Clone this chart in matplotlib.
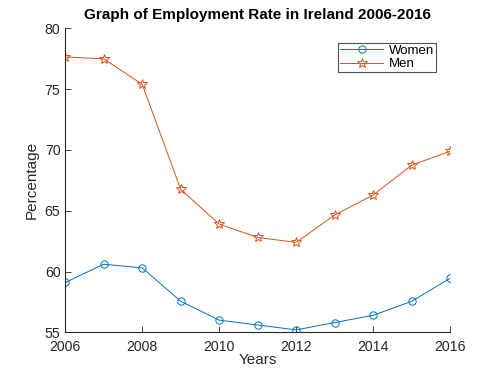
import numpy as np
import matplotlib.pyplot as plt

plt.rcParams['font.family'] = ['Liberation Sans', 'DejaVu Sans']

# Employment rate in Ireland (%)
years = [2006, 2007, 2008, 2009, 2010, 2011, 2012, 2013, 2014, 2015, 2016]
women = [59.1, 60.6, 60.3, 57.55, 56.0, 55.6, 55.2, 55.8, 56.4, 57.55, 59.45]
men = [77.65, 77.5, 75.4, 66.75, 63.9, 62.8, 62.4, 64.65, 66.3, 68.75, 69.9]

xticks = [2006, 2008, 2010, 2012, 2014, 2016]
yticks = [55, 60, 65, 70, 75, 80]

fig = plt.figure(figsize=(4.98, 3.74), dpi=100)
ax = fig.add_axes([0.131, 0.1115, 0.773, 0.8125])

ax.plot(years, women, '-o', color='#0072BD', lw=0.7, ms=5.3, mfc='none',
        mew=0.7, label='Women')
ax.plot(years, men, '-*', color='#D95319', lw=0.7, ms=7.5, mfc='none',
        mew=0.7, label='Men')

ax.set_xlim(2006, 2016)
ax.set_ylim(55, 80)
ax.set_xticks(xticks)
ax.set_yticks(yticks)
ax.tick_params(direction='in', length=4, width=0.6, labelsize=10.2,
               colors='#262626')
ax.tick_params(axis='x', pad=5.5)
for s in ['top', 'right']:
    ax.spines[s].set_visible(False)
for s in ['left', 'bottom']:
    ax.spines[s].set_linewidth(0.8)
    ax.spines[s].set_color('#262626')

ax.set_xlabel('Years', fontsize=11, color='#262626', labelpad=-1)
ax.set_ylabel('Percentage', fontsize=11, color='#262626', labelpad=4)
ax.set_title('Graph of Employment Rate in Ireland 2006-2016', fontsize=11,
             fontweight='bold', pad=7)

leg = ax.legend(loc='upper right', bbox_to_anchor=(436 / 498, 1 - 42.7 / 374),
                bbox_transform=fig.transFigure, fontsize=9.5, frameon=True,
                fancybox=False, handlelength=3.3, borderpad=0.15,
                labelspacing=0.1, borderaxespad=0, handletextpad=0.4)
leg.get_frame().set_edgecolor('#262626')
leg.get_frame().set_linewidth(0.8)

fig.savefig('out.png', dpi=100)
